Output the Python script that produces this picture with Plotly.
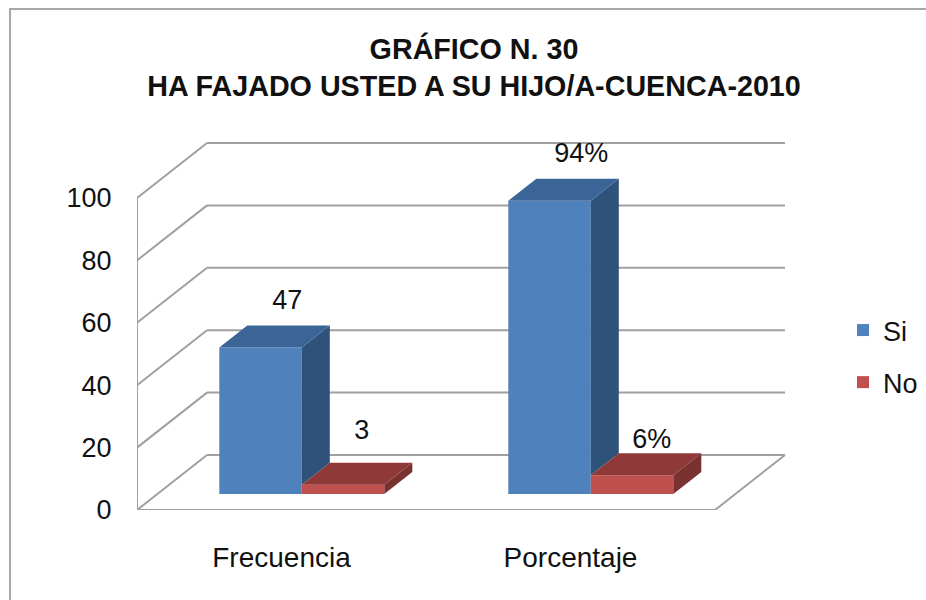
import plotly.graph_objects as go

categories = ["Frecuencia", "Porcentaje"]
series_names = ["Si", "No"]
si_values = [47, 94]
no_values = [3, 6]
si_labels = ["47", "94%"]
no_labels = ["3", "6%"]
y_ticks = [0, 20, 40, 60, 80, 100]

W, H = 926, 600
X0, X1 = 137, 790   # plot px
Y0, YT = 510, 135
PXU = 289.0         # px per category
PYU = 3.12          # px per value unit
DEPTH_X, DEPTH_Y = 70 / PXU, 55 / PYU  # full depth in data units
BAR_W = 82.5 / PXU
D_F, D_B = 0.29, 0.69

def proj(x, v, d):
    return x + d * DEPTH_X, v + d * DEPTH_Y

COL = {"Si": ("#4f81bd", "#3b6596", "#2f527b"), "No": ("#c0504d", "#8f3a38", "#7a3230")}
GRID = "#a0a0a0"
LW = 2

fig = go.Figure()
shapes = []

def line(pts):
    for a, b in zip(pts, pts[1:]):
        shapes.append(dict(type="line", xref="x", yref="y", x0=a[0], y0=a[1], x1=b[0], y1=b[1],
                           line=dict(color=GRID, width=LW), layer="below"))

def face(pts, color):
    pts = pts + [pts[0]]
    fig.add_trace(go.Scatter(x=[p[0] for p in pts], y=[p[1] for p in pts], fill="toself", fillcolor=color,
                             mode="none", showlegend=False, hoverinfo="skip"))

# walls / grid
for t in y_ticks[1:]:
    line([proj(0, t, 0), proj(0, t, 1), proj(2, t, 1)])
line([proj(0, 0, 1), proj(0, 0, 0), proj(2, 0, 0), proj(2, 0, 1), proj(0, 0, 1)])
line([proj(0, 0, 0), proj(0, 100, 0)])

# bars
nudges = {"Si": ([12, 17], [6, 6]), "No": ([4, 5], [-1, 17])}
for name, vals, labels, off, other in [("Si", si_values, si_labels, -BAR_W, no_values),
                                       ("No", no_values, no_labels, 0.0, [0, 0])]:
    front, top, side = COL[name]
    for i, v in enumerate(vals):
        xl = i + 0.5 + off
        xr = xl + BAR_W
        low = other[i]
        face([proj(xr, low, D_F), proj(xr, low, D_B), proj(xr, v, D_B), proj(xr, v, D_F)], side)
        face([proj(xl, v, D_F), proj(xr, v, D_F), proj(xr, v, D_B), proj(xl, v, D_B)], top)
    base = D_F * DEPTH_Y
    fig.add_trace(go.Bar(name=name, x=[i + 0.5 + off + BAR_W / 2 + D_F * DEPTH_X for i in range(2)],
                         y=vals, base=[base] * 2, width=BAR_W, legendgroup=name,
                         marker=dict(color=front, line=dict(width=0))))
    ndx, ndy = nudges[name]
    lx = [proj(i + 0.5 + off + BAR_W / 2, 0, 0.5)[0] + ndx[i] / PXU for i in range(2)]
    ly = [v + 0.69 * DEPTH_Y + 5 - ndy[i] / PYU for i, v in enumerate(vals)]
    fig.add_trace(go.Scatter(x=lx, y=ly, mode="text", text=labels, textposition="top center",
                             textfont=dict(size=27, color="#111111"), showlegend=False, hoverinfo="skip"))

shapes.append(dict(type="rect", xref="paper", yref="paper", x0=-(X0 - 10) / (X1 - X0), x1=(935 - X0) / (X1 - X0),
                   y0=-(610 - Y0) / (Y0 - YT), y1=1 + (YT - 9) / (Y0 - YT), line=dict(color="#8c8c8c", width=1.5),
                   fillcolor="rgba(0,0,0,0)", layer="below"))

fig.update_layout(
    width=W, height=H, autosize=False, barmode="overlay",
    paper_bgcolor="white", plot_bgcolor="rgba(0,0,0,0)",
    font=dict(family="Liberation Sans", color="#111111"),
    margin=dict(l=X0, r=W - X1, t=YT, b=H - Y0, autoexpand=False),
    title=dict(text="<b>GRÁFICO N. 30<br>HA FAJADO USTED A SU HIJO/A-CUENCA-2010</b>",
               x=474 / W, xanchor="center", y=1 - 58.5 / H, yanchor="top", font=dict(size=28.7, color="#111111")),
    xaxis=dict(range=[0, (X1 - X0) / PXU], tickvals=[0.5, 1.5], ticktext=categories, showgrid=False, zeroline=False,
               showline=False, ticks="outside", ticklen=22, tickcolor="rgba(0,0,0,0)", tickfont=dict(size=28)),
    yaxis=dict(range=[0, (Y0 - YT) / PYU], tickvals=y_ticks, showgrid=False, zeroline=False, showline=False,
               ticks="outside", ticklen=19, tickcolor="rgba(0,0,0,0)", tickfont=dict(size=27)),
    legend=dict(x=(843 - X0) / (X1 - X0), xanchor="left", y=1 - (306 - YT) / (Y0 - YT), yanchor="top",
                font=dict(size=27), itemwidth=30, bgcolor="rgba(0,0,0,0)", traceorder="grouped", tracegroupgap=14),
    shapes=shapes,
)
fig.write_html("out.html", post_script="document.body.style.margin='0';", config={"displayModeBar": False})
